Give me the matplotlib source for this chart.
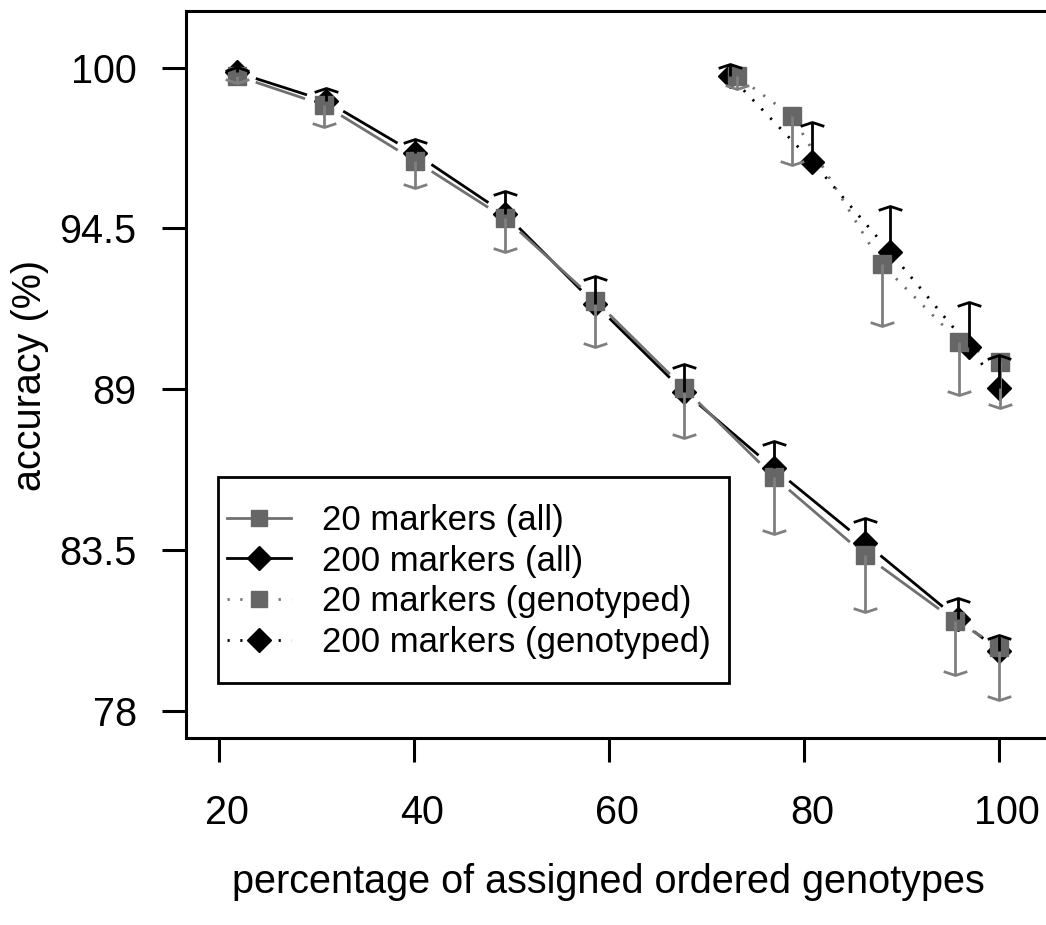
import numpy as np
import matplotlib
matplotlib.use("Agg")
import matplotlib.pyplot as plt
import matplotlib.transforms as mtransforms
from matplotlib.lines import Line2D
from matplotlib.path import Path
from matplotlib.patches import Rectangle

plt.rcParams["font.family"] = ["Liberation Sans", "DejaVu Sans"]

# all genotypes: 20 markers (mean, lower end of bar)
all20_x = [21.85, 30.8, 40.1, 49.35, 58.6, 67.7, 76.9, 86.25, 95.5, 100.0]
all20_y = [99.72, 98.72, 96.82, 94.85, 92.03, 89.03, 86.0, 83.32, 81.07, 80.18]
all20_lo = [99.49, 97.96, 95.87, 93.68, 90.43, 87.32, 84.03, 81.38, 79.22, 78.36]

# all genotypes: 200 markers (mean, upper end of bar)
all200_x = [21.85, 31.0, 40.1, 49.35, 58.6, 67.7, 76.9, 86.25, 95.8, 100.0]
all200_y = [99.84, 98.86, 97.07, 95.0, 91.9, 88.91, 86.29, 83.74, 81.12, 80.05]
all200_hi = [100.03, 99.32, 97.55, 95.79, 92.87, 89.85, 87.24, 84.58, 81.84, 80.58]

# genotyped only
gen20_x = [73.1, 78.75, 87.97, 95.93, 100.1]
gen20_y = [99.72, 98.35, 93.27, 90.62, 89.94]
gen20_lo = [99.26, 96.67, 91.17, 88.80, 88.36]

gen200_x = [72.4, 80.85, 88.8, 96.95, 100.0]
gen200_y = [99.72, 96.78, 93.70, 90.45, 89.05]
gen200_hi = [100.13, 98.15, 95.28, 91.99, 90.17]

labels = ["20 markers (all)", "200 markers (all)",
          "20 markers (genotyped)", "200 markers (genotyped)"]

W, H = 1046, 925
GREY = "#666666"
GREY_LINE = "#707070"
GREY_BAR = "#7f7f7f"
DOT = (0, (0.8, 3.8))

fig = plt.figure(figsize=(W / 100, H / 100), dpi=100)
ax = fig.add_axes([186 / W, 1 - 738 / H, (W - 186) / W + 0.02, (738 - 11) / H])
ax.set_xlim(16.65, 104.8 + 0.02 * W / 9.754)
ax.set_ylim(77.06, 101.94)


def gapped_line(x, y, gap=20, **kw):
    # type="b" style: segments stop short of the points
    pts = ax.transData.transform(np.column_stack([x, y]))
    inv = ax.transData.inverted()
    for p, q in zip(pts[:-1], pts[1:]):
        d = q - p
        L = np.hypot(*d)
        if L <= 2 * gap:
            continue
        u = d / L
        a = inv.transform(p + u * gap)
        b = inv.transform(q - u * gap)
        ax.plot([a[0], b[0]], [a[1], b[1]], **kw)


cap_down = Path([(-1, 0.33), (0, 0), (1, 0.33)])
cap_up = Path([(-1, -0.33), (0, 0), (1, -0.33)])

gapped_line(all200_x, all200_y, color="black", lw=2, solid_capstyle="butt")
gapped_line(all20_x, all20_y, color=GREY_LINE, lw=2, solid_capstyle="butt")
gapped_line(gen200_x, gen200_y, color="black", lw=2, linestyle=DOT)
gapped_line(gen20_x, gen20_y, color=GREY_LINE, lw=2, linestyle=DOT)

ax.plot(all200_x, all200_y, "D", color="black", ms=12, linestyle="none")
ax.plot(gen200_x, gen200_y, "D", color="black", ms=12, linestyle="none")
ax.plot(all20_x, all20_y, "s", color=GREY, ms=12.5, linestyle="none")
ax.plot(gen20_x, gen20_y, "s", color=GREY, ms=12.5, linestyle="none")

for xs, ys, lo in [(all20_x, all20_y, all20_lo), (gen20_x, gen20_y, gen20_lo)]:
    ax.vlines(xs, ys, lo, color=GREY_BAR, lw=2)
    ax.plot(xs, lo, marker=cap_down, ms=17, mfc="none", mec=GREY_BAR, mew=2,
            linestyle="none")
for xs, ys, hi in [(all200_x, all200_y, all200_hi), (gen200_x, gen200_y, gen200_hi)]:
    ax.vlines(xs, ys, hi, color="black", lw=2)
    ax.plot(xs, hi, marker=cap_up, ms=17, mfc="none", mec="black", mew=2,
            linestyle="none")

ax.set_xticks([20, 40, 60, 80, 100])
ax.set_yticks([78, 83.5, 89, 94.5, 100])
ax.set_yticklabels(["78", "83.5", "89", "94.5", "100"])
ax.tick_params(labelsize=28.5, length=17, width=2.2, color="black")
ax.tick_params(axis="x", pad=23)
ax.tick_params(axis="y", pad=18.5)
shift = mtransforms.ScaledTranslation(0.08, 0, fig.dpi_scale_trans)
for lab in ax.get_xticklabels():
    lab.set_transform(lab.get_transform() + shift)
for side in ["left", "bottom", "top"]:
    ax.spines[side].set_linewidth(2.2)
ax.spines["right"].set_visible(False)

fig.text(608 / W, 1 - 893 / H, "percentage of assigned ordered genotypes",
         ha="center", va="baseline", fontsize=28.5)
fig.text(30 / W, 1 - 375 / H, "accuracy (%)", rotation=90,
         ha="center", va="center", fontsize=28.5)

handles = [
    Line2D([], [], color=GREY_LINE, lw=2, marker="s", ms=11, mfc=GREY, mec=GREY),
    Line2D([], [], color="black", lw=2, marker="D", ms=12),
    Line2D([], [], color=GREY_LINE, lw=2, linestyle=DOT, marker="s", ms=11,
           mfc=GREY, mec=GREY),
    Line2D([], [], color="black", lw=2, linestyle=DOT, marker="D", ms=12),
]
fig.legend(handles, labels, loc="upper left",
           bbox_to_anchor=(227 / W, 1 - 504 / H), frameon=False,
           fontsize=25, handlelength=1.84, handletextpad=0.89,
           labelspacing=0.22, borderpad=0, borderaxespad=0)
fig.add_artist(Rectangle((218 / W, 1 - 683 / H), (729 - 218) / W, (683 - 477) / H,
                         transform=fig.transFigure, fill=False, lw=2,
                         ec="black"))

fig.savefig("out.png", dpi=100)
